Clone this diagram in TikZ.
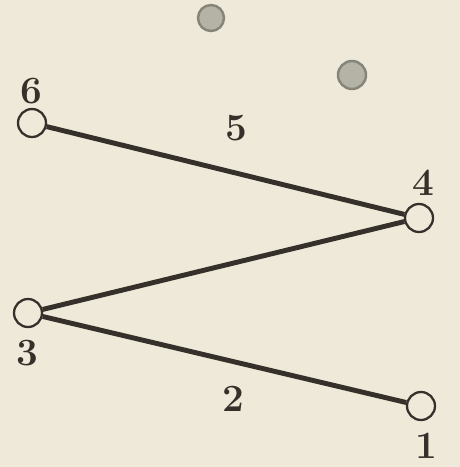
\documentclass[tikz,border=0pt]{standalone}
\usetikzlibrary{positioning}
\definecolor{paper}{HTML}{EFE9DA}
\definecolor{ink}{HTML}{35302A}
\definecolor{spot}{HTML}{B4B3A6}
\definecolor{spotrim}{HTML}{86857A}
\begin{document}
\begin{tikzpicture}[x=0.02cm, y=-0.02cm,
  vertex/.style={circle, draw=ink, line width=1.3pt, fill=paper, inner sep=0pt, minimum size=0.56cm},
  edge/.style={ink, line width=2.8pt},
  num/.style={text=ink, inner sep=0pt, font=\fontsize{22}{26}\selectfont\bfseries}]
%% --- paper ---
\fill[paper] (0,0) rectangle (460,467);
\useasboundingbox (0,0) rectangle (460,467);
%% --- spots ---
\fill[spot, draw=spotrim, line width=1.4pt] (211,18) circle (13);
\fill[spot, draw=spotrim, line width=1.4pt] (352,75) circle (14);
%% --- vertices ---
\node[vertex] (v6) at (32,123) {};
\node[vertex] (v4) at (419,218) {};
\node[vertex] (v3) at (28,313) {};
\node[vertex] (v1) at (421,406) {};
%% --- edges ---
\draw[edge] (v6) -- (v4);
\draw[edge] (v4) -- (v3);
\draw[edge] (v3) -- (v1);
%% --- labels ---
\node[num] (l6) at (31,91) {6};
\node[num] (l5) at (236,128) {5};
\node[num] (l4) at (423,183) {4};
\node[num] (l3) at (27,353) {3};
\node[num] (l2) at (233,399) {2};
\node[num] (l1) at (426,446) {1};
\end{tikzpicture}
\end{document}
